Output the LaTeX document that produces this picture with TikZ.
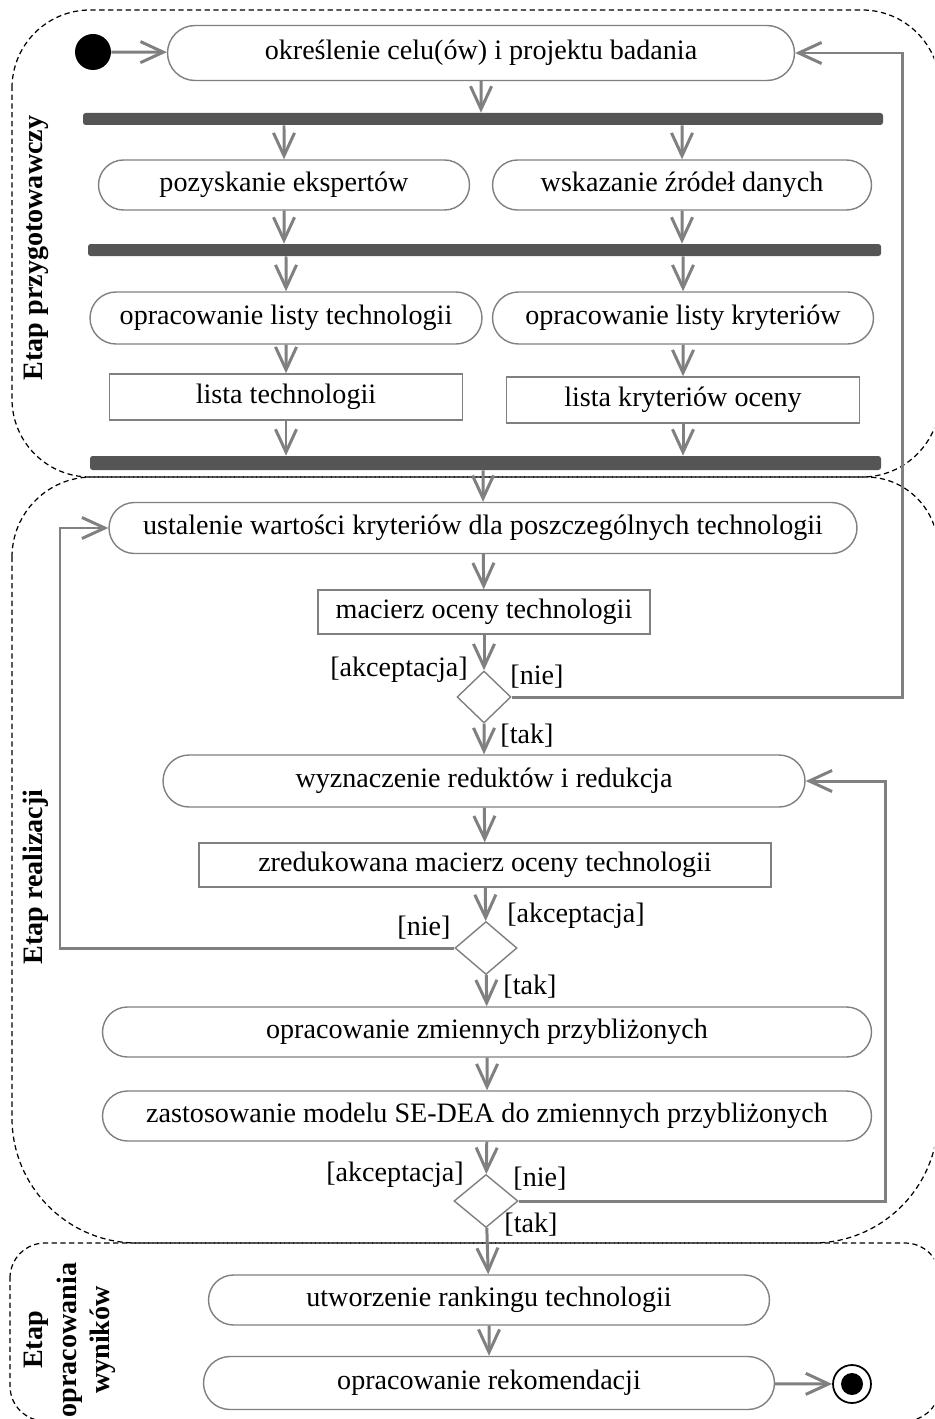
\documentclass[tikz,border=0pt]{standalone}
\usepackage{fontspec}
\setmainfont{Liberation Serif}
\usetikzlibrary{arrows.meta,shapes.misc,shapes.geometric}
\newlength{\pxu}
\setlength{\pxu}{0.02cm}
\definecolor{liniaszara}{HTML}{808080}
\definecolor{belka}{HTML}{555555}
\tikzset{
  akcja/.style={rounded rectangle, draw=liniaszara, line width=0.8pt, fill=white, minimum height=52\pxu, inner sep=2pt},
  obiekt/.style={rectangle, draw=liniaszara, line width=0.8pt, fill=white, minimum height=46\pxu, inner sep=2pt},
  belka/.style={rectangle, fill=belka, rounded corners=1.5pt, minimum height=12\pxu, inner sep=0pt},
  decyzja/.style={diamond, draw=liniaszara, line width=0.8pt, fill=white, minimum width=60\pxu, minimum height=53\pxu, inner sep=0pt},
  arr/.style={draw=liniaszara, line width=1.7pt, -{Straight Barb[length=13pt, width=12pt]}},
  etap/.style={draw=black, line width=0.7pt, dash pattern=on 3pt off 2pt},
  etapopis/.style={font=\fontsize{16}{19}\selectfont\bfseries, rotate=90, align=center},
  straznik/.style={inner sep=1pt},
}
\begin{document}
\begin{tikzpicture}[x=0.02cm, y=-0.02cm, font=\fontsize{16}{19}\selectfont]
\useasboundingbox (0,0) rectangle (934,1419);
\clip (0,0) rectangle (934,1419);
% etapy
\draw[etap] (12,88) arc[start angle=180, end angle=90, radius=78\pxu] -- (862,10)
  arc[start angle=90, end angle=0, radius=78\pxu] -- (940,399)
  arc[start angle=0, end angle=-90, radius=78\pxu] -- (90,477)
  arc[start angle=270, end angle=180, radius=78\pxu] -- cycle;
\draw[etap] (12,557) arc[start angle=180, end angle=90, radius=80\pxu] -- (866,477)
  arc[start angle=90, end angle=0, radius=72\pxu] -- (938,1118)
  arc[start angle=0, end angle=-90, radius=125\pxu] -- (137,1243)
  arc[start angle=270, end angle=180, radius=125\pxu] -- cycle;
\draw[etap] (10,1278) arc[start angle=180, end angle=90, radius=35\pxu] -- (905,1243)
  arc[start angle=90, end angle=0, radius=35\pxu] -- (940,1386)
  arc[start angle=0, end angle=-90, radius=35\pxu] -- (45,1421)
  arc[start angle=270, end angle=180, radius=35\pxu] -- cycle;
\node[etapopis] (etap1) at (36,248) {Etap przygotowawczy};
\node[etapopis] (etap2) at (36,877) {Etap realizacji};
\node[etapopis] (etap3) at (70,1340) {Etap\\opracowania\\wyników};
% etap przygotowawczy
\node[circle, fill=black, minimum size=36\pxu, inner sep=0pt] (start) at (93,52) {};
\node[akcja, minimum width=634\pxu, minimum height=55\pxu] (cel) at (481,53) {określenie celu(ów) i projektu badania};
\node[belka, minimum width=800\pxu] (b1) at (483,119) {};
\node[akcja, minimum width=378\pxu, minimum height=50\pxu] (ekspert) at (284,185) {pozyskanie ekspertów};
\node[akcja, minimum width=386\pxu, minimum height=50\pxu] (zrodla) at (682,185) {wskazanie źródeł danych};
\node[belka, minimum width=793\pxu] (b2) at (484.5,250) {};
\node[akcja, minimum width=399\pxu] (opractech) at (286,318) {opracowanie listy technologii};
\node[akcja, minimum width=388\pxu] (oprackryt) at (683,318) {opracowanie listy kryteriów};
\node[obiekt, minimum width=353\pxu] (listatech) at (286,397) {lista technologii};
\node[obiekt, minimum width=353\pxu] (listakryt) at (683,400) {lista kryteriów oceny};
\node[belka, minimum width=791\pxu, minimum height=14\pxu] (b3) at (485.5,463) {};
% etap realizacji
\node[akcja, minimum width=755\pxu, minimum height=51\pxu] (ustal) at (483,528) {ustalenie wartości kryteriów dla poszczególnych technologii};
\node[obiekt, minimum width=332\pxu, minimum height=44\pxu] (macierz) at (484,612) {macierz oceny technologii};
\node[decyzja, minimum width=54\pxu, minimum height=52\pxu] (d1) at (484,697) {};
\node[akcja, minimum width=649\pxu] (wyzn) at (484,781) {wyznaczenie reduktów i redukcja};
\node[obiekt, minimum width=572\pxu, minimum height=44\pxu] (zred) at (485,865) {zredukowana macierz oceny technologii};
\node[decyzja, minimum width=62\pxu] (d2) at (486,948) {};
\node[akcja, minimum width=776\pxu, minimum height=50\pxu] (zmienne) at (487,1032) {opracowanie zmiennych przybliżonych};
\node[akcja, minimum width=776\pxu, minimum height=50\pxu] (sedea) at (487,1116) {zastosowanie modelu SE-DEA do zmiennych przybliżonych};
\node[decyzja, minimum width=64\pxu] (d3) at (486,1201) {};
% etap opracowania wynikow
\node[akcja, minimum width=568\pxu, minimum height=50\pxu] (ranking) at (489,1300) {utworzenie rankingu technologii};
\node[akcja, minimum width=578\pxu, minimum height=53\pxu] (rekom) at (489,1383) {opracowanie rekomendacji};
\node[circle, draw=black, line width=1pt, fill=white, minimum size=38\pxu, inner sep=0pt,
  path picture={\fill[black] (path picture bounding box.center) circle (11\pxu);}] (koniec) at (852,1384) {};
% warunki
\node[straznik] (akc1) at (399,670) {[akceptacja]};
\node[straznik] (nie1) at (537,677) {[nie]};
\node[straznik] (tak1) at (527,736) {[tak]};
\node[straznik] (akc2) at (576,916) {[akceptacja]};
\node[straznik] (nie2) at (424,928) {[nie]};
\node[straznik] (tak2) at (530,987) {[tak]};
\node[straznik] (akc3) at (395,1175) {[akceptacja]};
\node[straznik] (nie3) at (540,1179) {[nie]};
\node[straznik] (tak3) at (531,1225) {[tak]};
\coordinate (powrot1) at (902,52);
\coordinate (powrot2) at (60,530);
\coordinate (powrot3) at (885,780);
% przeplyw
\draw[arr] (start) -- (cel);
\draw[arr] (cel) -- (cel |- b1.north);
\draw[arr] (b1.south -| ekspert) -- (ekspert);
\draw[arr] (b1.south -| zrodla) -- (zrodla);
\draw[arr] (ekspert) -- (ekspert |- b2.north);
\draw[arr] (zrodla) -- (zrodla |- b2.north);
\draw[arr] (b2.south -| opractech) -- (opractech);
\draw[arr] (b2.south -| oprackryt) -- (oprackryt);
\draw[arr] (opractech) -- (listatech);
\draw[arr] (oprackryt) -- (listakryt);
\draw[arr] (listatech) -- (listatech |- b3.north);
\draw[arr] (listakryt) -- (listakryt |- b3.north);
\draw[arr] (b3.south -| ustal) -- (ustal);
\draw[arr] (ustal) -- (macierz);
\draw[arr] (macierz) -- (d1);
\draw[arr] (d1) -- (wyzn);
\draw[arr] (d1.east) -| (powrot1 |- cel.east) -- (cel.east);
\draw[arr] (wyzn) -- (zred);
\draw[arr] (zred) -- (d2);
\draw[arr] (d2) -- (zmienne);
\draw[arr] (d2.west) -| (powrot2 |- ustal.west) -- (ustal.west);
\draw[arr] (zmienne) -- (sedea);
\draw[arr] (sedea) -- (d3);
\draw[arr] (d3) -- (ranking);
\draw[arr] (d3.east) -| (powrot3 |- wyzn.east) -- (wyzn.east);
\draw[arr] (ranking) -- (rekom);
\draw[arr] (rekom) -- (koniec);
\end{tikzpicture}
\end{document}
